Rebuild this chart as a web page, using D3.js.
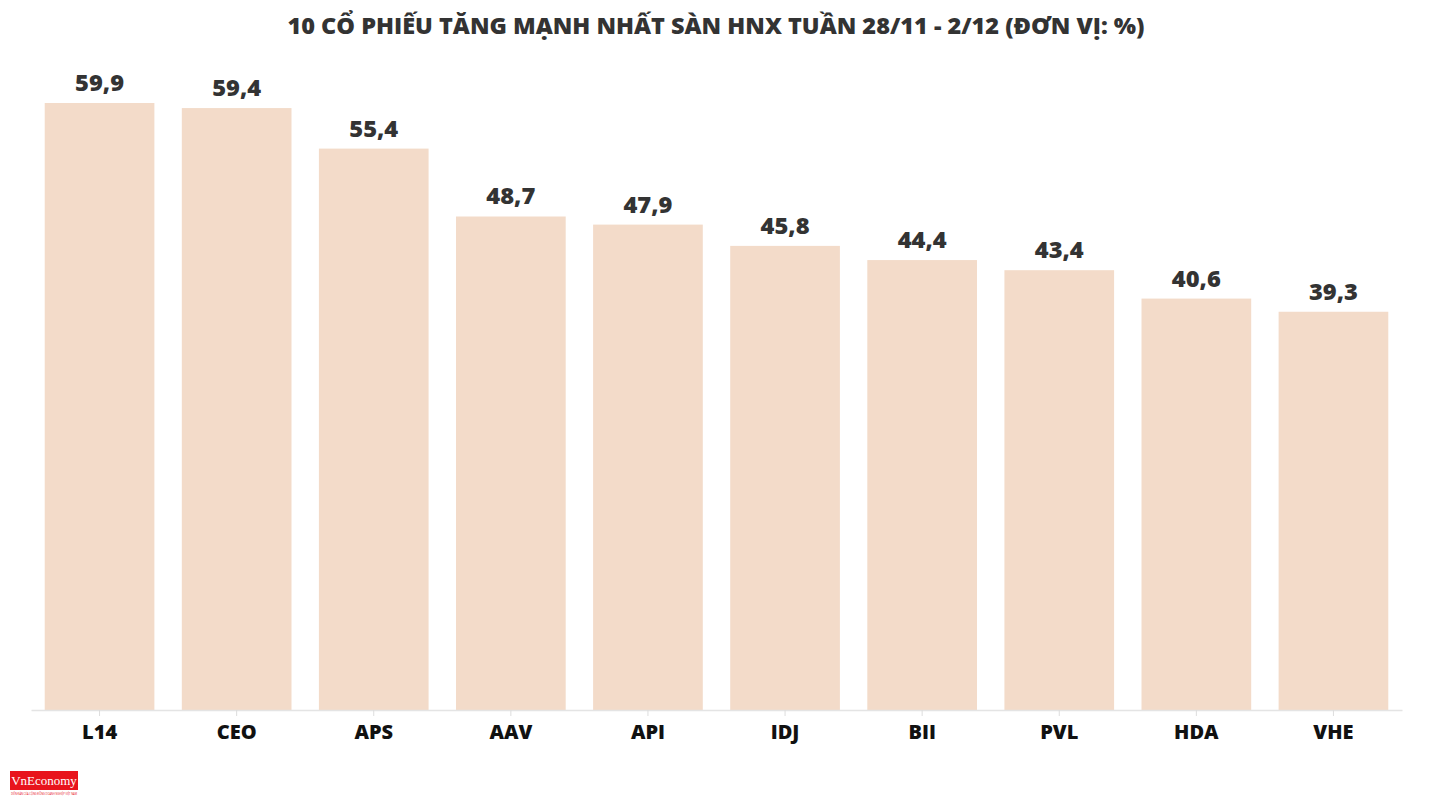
<!DOCTYPE html>
<html><head><meta charset="utf-8">
<script src="https://cdn.jsdelivr.net/npm/d3@7"></script>
<style>body{margin:0;background:#fff;}svg{display:block;}</style>
</head><body>
<svg id="c" width="1434" height="806"></svg>
<script>
const categories = ["L14","CEO","APS","AAV","API","IDJ","BII","PVL","HDA","VHE"];
const values = [59.9,59.4,55.4,48.7,47.9,45.8,44.4,43.4,40.6,39.3];
const title = "10 CỔ PHIẾU TĂNG MẠNH NHẤT SÀN HNX TUẦN 28/11 - 2/12 (ĐƠN VỊ: %)";

const svg = d3.select("#c");
const font = "'Open Sans','Noto Sans',sans-serif";
const x = d3.scaleBand().domain(categories).range([31,1402]).paddingInner(0.2).paddingOuter(0.1);
const y = d3.scaleLinear().domain([0,59.9]).range([710,103]);

svg.append("text").attr("x",716).attr("y",34).attr("text-anchor","middle")
  .attr("font-family",font).attr("font-weight",800).attr("font-size",23)
  .attr("fill","#333").attr("textLength",857).attr("lengthAdjust","spacingAndGlyphs").text(title);

svg.selectAll("rect.bar").data(values).join("rect").attr("class","bar")
  .attr("x",(d,i)=>x(categories[i])).attr("width",x.bandwidth())
  .attr("y",d=>y(d)).attr("height",d=>y(0)-y(d)).attr("fill","#f3dbc9");

const fmt = d => d.toFixed(1).replace(".",",");
svg.selectAll("text.val").data(values).join("text").attr("class","val")
  .attr("x",(d,i)=>x(categories[i])+x.bandwidth()/2).attr("y",d=>y(d)-12)
  .attr("text-anchor","middle").attr("font-family",font).attr("font-weight",800)
  .attr("font-size",23).attr("fill","#333").attr("textLength",49).attr("lengthAdjust","spacingAndGlyphs").text(fmt);

const axis = svg.append("g").attr("transform","translate(0,710)")
  .call(d3.axisBottom(x).tickSize(6).tickSizeOuter(0).tickPadding(9));
axis.select(".domain").attr("stroke","#e4e4e4").attr("stroke-width",1.5);
axis.selectAll(".tick line").attr("stroke","#dddddd");
axis.selectAll(".tick text").attr("font-family",font).attr("font-weight",800)
  .attr("font-size",20).attr("fill","#111");

// logo
const lg = svg.append("g").attr("transform","translate(10,771)");
lg.append("rect").attr("width",68).attr("height",19).attr("fill","#e8141c");
lg.append("text").attr("x",34).attr("y",14).attr("text-anchor","middle")
  .attr("font-family","'Liberation Serif',serif").attr("font-size",13).attr("fill","#fff").text("VnEconomy");
lg.append("text").attr("x",34).attr("y",24).attr("text-anchor","middle")
  .attr("font-family",font).attr("font-size",3.5).attr("fill","#e8141c")
  .attr("textLength",66).attr("lengthAdjust","spacingAndGlyphs").text("DIỄN ĐÀN CỦA CỘNG ĐỒNG DOANH NGHIỆP VIỆT NAM");
</script>
</body></html>
